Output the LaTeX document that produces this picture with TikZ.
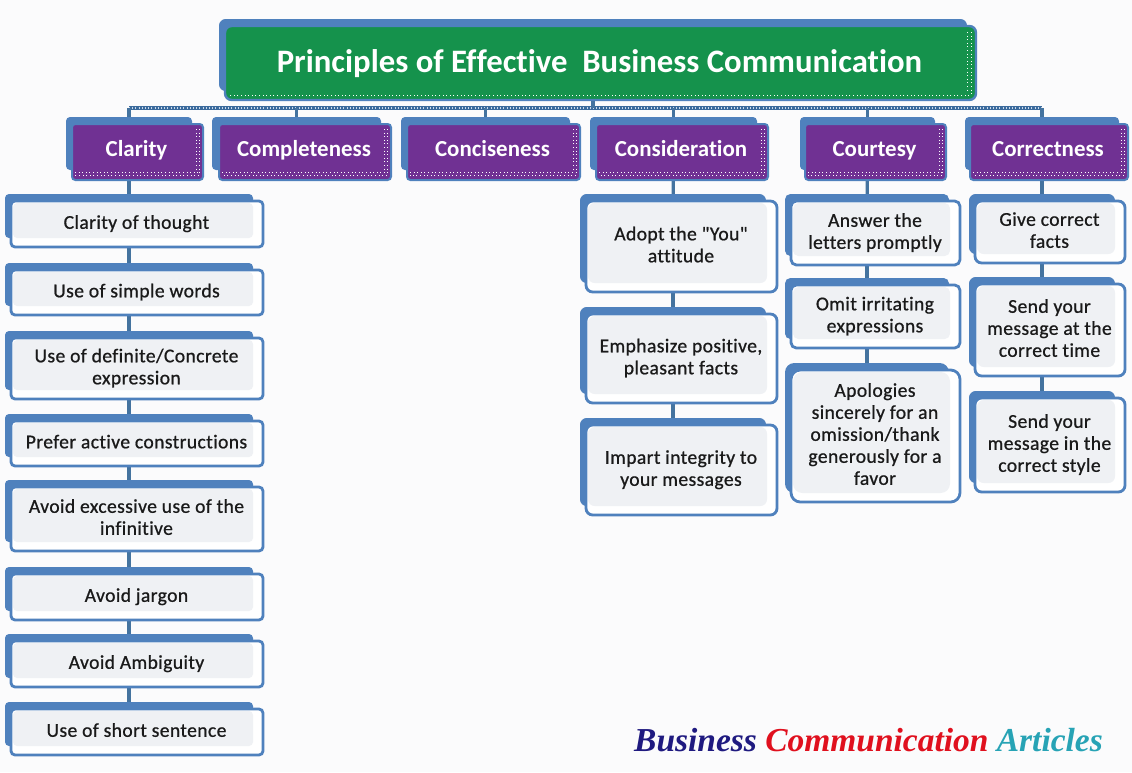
\documentclass[tikz,border=0pt]{standalone}
\usepackage{fontspec}
\setmainfont{Carlito}
\newfontfamily\leaffont{Carlito}[RawFeature={embolden=0.8},LetterSpace=2,Ligatures={NoCommon,NoRequired,NoContextual}]
\newfontfamily\headfont{Carlito Bold}[Ligatures={NoCommon,NoRequired,NoContextual}]
\newfontfamily\brandfont{Liberation Serif Bold Italic}
\definecolor{pageback}{HTML}{FBFBFC}
\definecolor{edgeblue}{HTML}{4F81BD}
\definecolor{linkblue}{HTML}{44739F}
\definecolor{busdark}{HTML}{3A6A9C}
\definecolor{headpurple}{HTML}{703193}
\definecolor{titlegreen}{HTML}{15924C}
\definecolor{leafgrey}{HTML}{EFF1F4}
\definecolor{leaftext}{HTML}{1A1A1A}
\definecolor{brandnavy}{HTML}{1F1A80}
\definecolor{brandred}{HTML}{E0101E}
\definecolor{brandteal}{HTML}{27A3B5}
\pgfdeclarelayer{pagelayer}
\pgfdeclarelayer{linklayer}
\pgfsetlayers{pagelayer,linklayer,main}
\tikzset{
  plate/.style={inner sep=0pt,outer sep=0pt,rectangle},
  backplate/.style={plate,fill=edgeblue},
  leaftextstyle/.style={align=center,inner sep=0pt,text=leaftext,font=\leaffont\fontsize{14.7}{16.5}\selectfont},
  headtextstyle/.style={inner sep=0pt,anchor=base,text=white,font=\headfont\fontsize{17.2}{20}\selectfont},
  link/.style={draw=linkblue,line width=2.4pt},
  busline/.style={draw=busdark,line width=2.4pt},
  dotband/.style={draw=white,line width=.7pt,dash pattern=on .7pt off 2pt},
}
% [corner]{name}{back x0}{back y0}{back x1}{front x1}{front y1}{text}
\newcommand{\leafbox}[8][3]{%
  \pgfmathsetmacro\fxa{#3+6}\pgfmathsetmacro\fya{#4+7}\pgfmathsetmacro\bya{#7-9}%
  \pgfmathsetmacro\cbx{(#3+#5)/2}\pgfmathsetmacro\cby{(#4+\bya)/2}%
  \pgfmathsetmacro\wb{(#5-#3)*.75}\pgfmathsetmacro\hb{(\bya-#4)*.75}%
  \pgfmathsetmacro\cfx{(\fxa+#6)/2}\pgfmathsetmacro\cfy{(\fya+#7)/2}%
  \pgfmathsetmacro\wf{(#6-\fxa)*.75}\pgfmathsetmacro\hf{(#7-\fya)*.75}%
  \pgfmathsetmacro\wg{(#6-\fxa-12)*.75}\pgfmathsetmacro\hg{(#7-\fya-11)*.75}%
  \pgfmathsetmacro\cgx{\cfx-4}\pgfmathsetmacro\cgy{\cfy-3.5}%
  \node[backplate,rounded corners=#1pt,minimum width=\wb pt,minimum height=\hb pt] (#2) at (\cbx,\cby) {};
  \node[plate,fill=white,draw=edgeblue,line width=2.1pt,rounded corners=#1pt,minimum width=\wf pt,minimum height=\hf pt] (#2f) at (\cfx,\cfy) {};
  \node[plate,fill=leafgrey,rounded corners=#1pt,minimum width=\wg pt,minimum height=\hg pt] (#2g) at (\cgx,\cgy) {};
  \node[leaftextstyle,yshift=-.3pt,xshift=-.4pt] (#2t) at (\cfx,\cfy) {\strut #8\strut};
}
% {name}{back x0}{back x1}{front x0}{front x1}{text}
\newcommand{\headbox}[6]{%
  \pgfmathsetmacro\cbx{(#2+#3)/2}\pgfmathsetmacro\wb{(#3-#2)*.75}%
  \pgfmathsetmacro\cfx{(#4+#5)/2}\pgfmathsetmacro\wf{(#5-#4)*.75}%
  \pgfmathsetmacro\dotx{#5-4}\pgfmathsetmacro\dotxb{#5-7}\pgfmathsetmacro\dotl{#4+3}%
  \node[backplate,rounded corners=3pt,minimum width=\wb pt,minimum height=39.75pt] (#1) at (\cbx,143.5) {};
  \node[plate,fill=headpurple,draw=edgeblue,line width=1.5pt,rounded corners=2.5pt,minimum width=\wf pt,minimum height=42pt] (#1f) at (\cfx,152) {};
  \draw[dotband] (\dotx,129) -- (\dotx,175.5) -- (\dotl,175.5);
  \draw[dotband] (\dotxb,129) -- (\dotxb,171);
  \draw[dotband] (\dotl,172.5) -- (\dotx,172.5);
  \node[headtextstyle] (#1t) at (\cfx-1,156) {#6};
}
\begin{document}
\begin{tikzpicture}[x=.75pt,y=-.75pt]
\useasboundingbox (0,0) rectangle (1132,772);
\begin{pgfonlayer}{pagelayer}
  \fill[pageback] (0,0) rectangle (1132,772);
\end{pgfonlayer}

% title
\node[backplate,rounded corners=5pt,minimum width=561pt,minimum height=54pt] (titleback) at (593,55) {};
\node[plate,fill=titlegreen,draw=edgeblue,line width=1.8pt,rounded corners=5pt,minimum width=563.25pt,minimum height=55.5pt] (titlefront) at (600.5,63) {};
\draw[dotband] (971,32) -- (971,95) -- (229,95);
\draw[dotband] (967,32) -- (967,91);
\node[inner sep=0pt,anchor=base,text=white,font=\headfont\fontsize{24.55}{28}\selectfont] (titletext) at (599.5,72) {Principles of Effective~ Business Communication};

% header row
\headbox{hclar}{66}{192}{72}{203}{Clarity}
\headbox{hcomp}{212}{381}{219}{391}{Completeness}
\headbox{hconc}{401}{570}{407}{580}{Conciseness}
\headbox{hcons}{590}{757}{596}{768}{Consideration}
\headbox{hcour}{800}{935}{805}{946}{Courtesy}
\headbox{hcorr}{965}{1119}{970}{1128}{Correctness}

% column 1
\leafbox{aa}{5}{194}{253}{263}{247}{Clarity of thought}
\leafbox{ab}{5}{263}{253}{263}{315}{Use of simple words}
\leafbox{ac}{5}{331}{253}{263}{399}{Use of definite/Concrete\\expression}
\leafbox{ad}{5}{414}{253}{263}{466}{Prefer active constructions}
\leafbox{ae}{5}{480}{253}{263}{551}{Avoid excessive use of the\\infinitive}
\leafbox{af}{5}{567}{253}{263}{620}{Avoid jargon}
\leafbox{ag}{5}{634}{253}{263}{687}{Avoid Ambiguity}
\leafbox{ah}{5}{702}{253}{263}{755}{Use of short sentence}

% column 4
\leafbox[5]{ba}{580}{194}{766}{777}{292}{Adopt the "You"\\attitude}
\leafbox[5]{bb}{580}{307}{766}{777}{403}{Emphasize positive,\\pleasant facts}
\leafbox[5]{bc}{580}{418}{766}{777}{515}{Impart integrity to\\your messages}

% column 5
\leafbox[4]{ca}{785}{194}{949}{960}{265}{Answer the\\letters promptly}
\leafbox[4]{cb}{785}{278}{949}{960}{348}{Omit irritating\\expressions}
\leafbox[7]{cc}{785}{363}{949}{960}{502}{Apologies\\sincerely for an\\omission/thank\\generously for a\\favor}

% column 6
\leafbox[5]{da}{969}{194}{1115}{1125}{263}{Give correct\\facts}
\leafbox[5]{db}{969}{277}{1115}{1125}{376}{Send your\\message at the\\correct time}
\leafbox[5]{dc}{969}{391}{1115}{1125}{492}{Send your\\message in the\\correct style}

% connectors
\begin{pgfonlayer}{linklayer}
  \coordinate (busy) at (0,108);
  \draw[busline] (hclar.center |- busy) -- (hcorr.center |- busy);
  \draw[draw=white!70!edgeblue,line width=.8pt,dash pattern=on .8pt off 1.6pt] (hclar.center |- busy) -- (hcorr.center |- busy);
  \draw[link] (titleback) -- (titleback |- busy);
  \foreach \h in {hclar,hcomp,hconc,hcons,hcour,hcorr}
    \draw[link] (\h) -- (\h |- busy);
  \draw[link] (hclar) -- (aa);
  \draw[link] (aa) -- (ab);
  \draw[link] (ab) -- (ac);
  \draw[link] (ac) -- (ad);
  \draw[link] (ad) -- (ae);
  \draw[link] (ae) -- (af);
  \draw[link] (af) -- (ag);
  \draw[link] (ag) -- (ah);
  \draw[link] (hcons) -- (ba);
  \draw[link] (ba) -- (bb);
  \draw[link] (bb) -- (bc);
  \draw[link] (hcour) -- (ca);
  \draw[link] (ca) -- (cb);
  \draw[link] (cb) -- (cc);
  \draw[link] (hcorr) -- (da);
  \draw[link] (da) -- (db);
  \draw[link] (db) -- (dc);
\end{pgfonlayer}

% brand line
\node[inner sep=0pt,font=\brandfont\fontsize{25.1}{30}\selectfont] (brand) at (868.5,740) {\textcolor{brandnavy}{Business} \textcolor{brandred}{Communication} \textcolor{brandteal}{Articles}};
\end{tikzpicture}
\end{document}
